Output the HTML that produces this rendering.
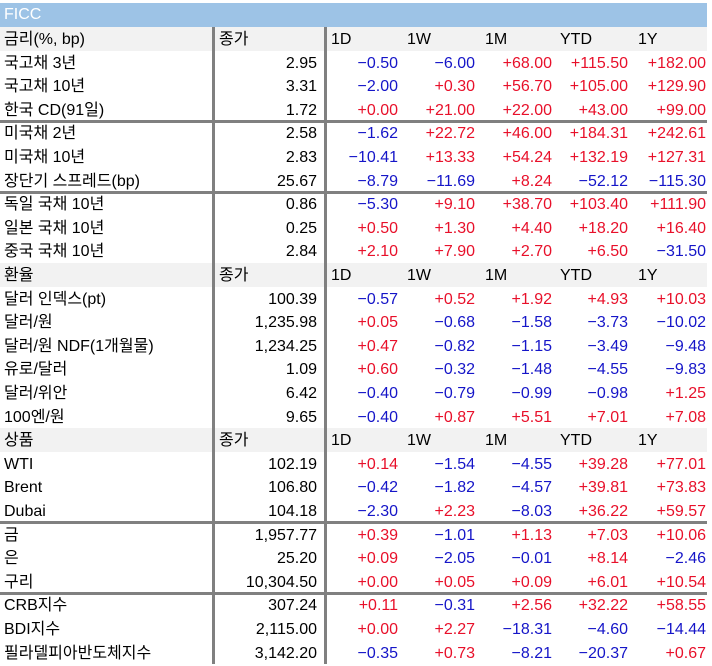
<!DOCTYPE html>
<html><head><meta charset="utf-8"><style>
body{margin:0;width:712px;height:666px;background:#fff;position:relative;overflow:hidden;font-family:"Liberation Sans","Noto Sans CJK KR",sans-serif;font-size:16px;color:#000}
.a{position:absolute;white-space:nowrap;line-height:25px}
.r{text-align:right}
.red{color:#e8102a}.blue{color:#1515c8}
</style></head><body>
<div class="a" style="left:0;top:3px;width:707px;height:24px;background:#9dc3e6;color:#fff;padding-left:4px;box-sizing:border-box;line-height:24px">FICC</div>
<div id="t"></div>
<script>
const rows=[
["H","금리(%, bp)"],
["국고채 3년","2.95","-0.50","-6.00","+68.00","+115.50","+182.00"],
["국고채 10년","3.31","-2.00","+0.30","+56.70","+105.00","+129.90"],
["한국 CD(91일)","1.72","+0.00","+21.00","+22.00","+43.00","+99.00"],
["S"],
["미국채 2년","2.58","-1.62","+22.72","+46.00","+184.31","+242.61"],
["미국채 10년","2.83","-10.41","+13.33","+54.24","+132.19","+127.31"],
["장단기 스프레드(bp)","25.67","-8.79","-11.69","+8.24","-52.12","-115.30"],
["S"],
["독일 국채 10년","0.86","-5.30","+9.10","+38.70","+103.40","+111.90"],
["일본 국채 10년","0.25","+0.50","+1.30","+4.40","+18.20","+16.40"],
["중국 국채 10년","2.84","+2.10","+7.90","+2.70","+6.50","-31.50"],
["H","환율"],
["달러 인덱스(pt)","100.39","-0.57","+0.52","+1.92","+4.93","+10.03"],
["달러/원","1,235.98","+0.05","-0.68","-1.58","-3.73","-10.02"],
["달러/원 NDF(1개월물)","1,234.25","+0.47","-0.82","-1.15","-3.49","-9.48"],
["유로/달러","1.09","+0.60","-0.32","-1.48","-4.55","-9.83"],
["달러/위안","6.42","-0.40","-0.79","-0.99","-0.98","+1.25"],
["100엔/원","9.65","-0.40","+0.87","+5.51","+7.01","+7.08"],
["H","상품"],
["WTI","102.19","+0.14","-1.54","-4.55","+39.28","+77.01"],
["Brent","106.80","-0.42","-1.82","-4.57","+39.81","+73.83"],
["Dubai","104.18","-2.30","+2.23","-8.03","+36.22","+59.57"],
["S"],
["금","1,957.77","+0.39","-1.01","+1.13","+7.03","+10.06"],
["은","25.20","+0.09","-2.05","-0.01","+8.14","-2.46"],
["구리","10,304.50","+0.00","+0.05","+0.09","+6.01","+10.54"],
["S"],
["CRB지수","307.24","+0.11","-0.31","+2.56","+32.22","+58.55"],
["BDI지수","2,115.00","+0.00","+2.27","-18.31","-4.60","-14.44"],
["필라델피아반도체지수","3,142.20","-0.35","+0.73","-8.21","-20.37","+0.67"]
];
const heads=["1D","1W","1M","YTD","1Y"];
const headX=[331,407,485,560,638];
const rightX=[398,475,552,628,706];
const t=document.getElementById('t');
const RH=23.6;let i=0;
function mk(cls,style,txt){const d=document.createElement('div');d.className='a '+cls;d.style.cssText=style;d.textContent=txt;t.appendChild(d);return d;}
rows.forEach(r=>{
 const top=27+RH*i;
 if(r[0]==="S"){
  const s=mk('', `left:0;top:${top-1.5}px;width:707px;height:3px;background:#808080`, '');
  
  
  return;
 }
 if(r[0]==="H"){
  const bg=mk('', `left:0;top:${top}px;width:707px;height:${RH}px;background:#f2f2f2`, '');
  
  
  const l=mk('', `left:4px;top:${top}px`, r[1]);
  
  
  const c=mk('', `left:219px;top:${top}px`, '종가');
  
  
  heads.forEach((h,k)=>{
   const e=mk('', `left:${headX[k]}px;top:${top}px`, h);
   
   
  });
 } else {
  const l=mk('', `left:4px;top:${top}px`, r[0]);
  
  
  const c=mk('r', `left:190px;width:127px;top:${top}px`, r[1]);
  
  
  for(let k=0;k<5;k++){
   const v=r[k+2];
   const e=mk('r '+(v[0]==='-'?'blue':'red'), `left:${rightX[k]-80}px;width:80px;top:${top}px`, v.replace('-','−'));
   
   
  }
 }
 i++;
});
[212,324].forEach(x=>{
 const v=mk('', `left:${x}px;top:27px;width:3px;height:637px;background:#808080`, '');
 
 
});
</script>
</body></html>
